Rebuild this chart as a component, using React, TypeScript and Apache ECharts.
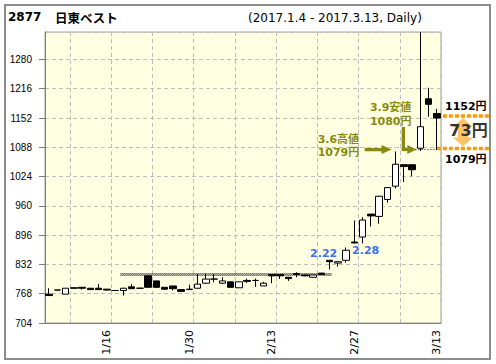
import React, { useEffect, useRef } from 'react';
import * as echarts from 'echarts';

// ---- data ----
const dates = [
  '1/4', '1/5', '1/6', '1/10', '1/11', '1/12', '1/13', '1/16', '1/17', '1/18',
  '1/19', '1/20', '1/23', '1/24', '1/25', '1/26', '1/27', '1/30', '1/31', '2/1',
  '2/2', '2/3', '2/6', '2/7', '2/8', '2/9', '2/10', '2/13', '2/14', '2/15',
  '2/16', '2/17', '2/20', '2/21', '2/22', '2/23', '2/24', '2/27', '2/28', '3/1',
  '3/2', '3/3', '3/6', '3/7', '3/8', '3/9', '3/10', '3/13',
];
const opens = [
  767, 776, 767, 781, 782, 780, 780, 778, 775, 775,
  783, 780, 807, 796, 782, 785, 777, 777, 780, 791,
  800, 791, 794, 781, 797, 797, 785, 810, 810, 804,
  812, 809, 804, 813, 841, 835, 841, 881, 892, 942,
  937, 974, 1003, 1050, 1050, 1086, 1194, 1162,
];
const closes = [
  764, 776, 780, 780, 780, 777, 777, 776, 775, 780,
  779, 780, 782, 782, 778, 779, 773, 778, 789, 800,
  800, 796, 782, 794, 795, 797, 791, 807, 807, 801,
  810, 807, 809, 810, 838, 838, 863, 879, 929, 938,
  981, 1000, 1051, 1046, 1039, 1133, 1182, 1152,
];
const lows = [
  763, 775, 767, 779, 777, 776, 777, 775, 774, 764,
  779, 779, 782, 781, 776, 775, 773, 777, 779, 790,
  793, 790, 782, 781, 791, 783, 785, 791, 800, 796,
  804, 806, 803, 809, 821, 827, 836, 878, 878, 915,
  921, 967, 998, 1012, 1025, 1080, 1155, 1082,
];
const highs = [
  780, 776, 780, 782, 782, 780, 789, 778, 776, 781,
  789, 781, 808, 796, 782, 785, 777, 788, 811, 812,
  811, 804, 794, 794, 801, 801, 794, 811, 810, 804,
  815, 810, 809, 814, 841, 838, 869, 928, 935, 942,
  982, 1000, 1079, 1050, 1050, 1340, 1218, 1172,
];
const xLabelIdx = [7, 17, 27, 37, 47];
const yMin = 704;
const yMax = 1340;
const yStep = 64;
const boxFrom = 9;
const boxTo = 34;
const boxValue = 810;
const blueMarks = [
  { idx: 34, text: '2.22', value: 841, dx: -6, dy: -7 },
  { idx: 38, text: '2.28', value: 878, dx: 3, dy: 7.5 },
];
const highIdx = 42; // 3.6
const highPrice = 1079;
const lowIdx = 45; // 3.9
const lowPrice = 1080;
const lastIdx = 47;
const lastClose = 1152;
const diff = lastClose - highPrice;

const OLIVE = '#8a8a12';
const ORANGE = '#ff9900';
const FONT = '"DejaVu Sans", "Noto Sans CJK JP", sans-serif';

export default function App() {
  const ref = useRef<HTMLDivElement>(null);

  useEffect(() => {
    if (!ref.current) return;
    const chart = echarts.init(ref.current, null, { renderer: 'svg' });
    const candleData = dates.map((_, i) => [opens[i], closes[i], lows[i], highs[i]]);
    const gridSel = (i: number) => i % 5 === 3;

    chart.setOption({
      animation: false,
      backgroundColor: '#ffffff',
      grid: {
        left: 45, top: 32, width: 396, height: 291,
        show: true, backgroundColor: '#ffffe2', borderColor: '#a0a0a0', borderWidth: 1,
      },
      xAxis: {
        type: 'category',
        data: dates,
        boundaryGap: true,
        axisLine: { lineStyle: { color: '#808080' } },
        axisTick: { interval: gridSel, length: 5, lineStyle: { color: '#808080' } },
        splitLine: { show: true, interval: gridSel, lineStyle: { color: '#bdbdbd', type: [4, 3] } },
        axisLabel: {
          interval: (i: number) => xLabelIdx.includes(i),
          rotate: 90, margin: 7, fontSize: 11, fontFamily: 'DejaVu Sans', color: '#000',
        },
      },
      yAxis: {
        type: 'value', min: yMin, max: yMax, interval: yStep,
        axisLine: { show: true, lineStyle: { color: '#808080' } },
        axisTick: { show: true, length: 6, lineStyle: { color: '#808080' } },
        splitLine: { show: true, lineStyle: { color: '#bdbdbd', type: [4, 3] } },
        axisLabel: {
          showMaxLabel: false, margin: 13, fontSize: 10, fontFamily: 'Liberation Sans', color: '#000',
          formatter: (v: number) => String(v),
        },
      },
      series: [
        {
          type: 'candlestick',
          data: candleData,
          barWidth: 7,
          clip: true,
          itemStyle: {
            color: '#ffffff', color0: '#000000',
            borderColor: '#000000', borderColor0: '#000000', borderColorDoji: '#000000',
            borderWidth: 1,
          },
        },
      ],
    });

    const P = (i: number, v: number) => chart.convertToPixel({ gridIndex: 0 }, [i, v]) as number[];
    const g: any[] = [];

    // frame
    g.push({ type: 'rect', silent: true, shape: { x: 5, y: 5, width: 485, height: 354 }, style: { fill: 'none', stroke: '#8c8c8c', lineWidth: 2 } });
    // titles
    g.push({ type: 'text', style: { text: '2877', x: 8, y: 17, verticalAlign: 'middle', fontSize: 12, fontWeight: 'bold', fontFamily: 'DejaVu Sans', fill: '#000' } });
    g.push({ type: 'text', style: { text: '日東ベスト', x: 55, y: 17, verticalAlign: 'middle', fontSize: 12.5, fontWeight: 'bold', fontFamily: '"Noto Sans CJK JP"', fill: '#000' } });
    g.push({ type: 'text', style: { text: '(2017.1.4 - 2017.3.13, Daily)', x: 248, y: 18, verticalAlign: 'middle', fontSize: 12, fontFamily: 'DejaVu Sans', fill: '#000' } });

    // dotted box line
    const bl = P(boxFrom, boxValue);
    const br = P(boxTo, boxValue);
    [-1, 0, 1].forEach((d, k) => {
      g.push({ type: 'line', silent: true, shape: { x1: bl[0] - 3, y1: bl[1] + d, x2: br[0] + 2, y2: br[1] + d }, style: { stroke: '#333', lineWidth: 1, lineDash: [1, 1], lineDashOffset: k % 2 } });
    });

    // blue date marks
    blueMarks.forEach((m) => {
      const p = P(m.idx, m.value);
      g.push({ type: 'text', style: { text: m.text, x: p[0] + m.dx, y: p[1] + m.dy, align: 'center', verticalAlign: 'middle', fontSize: 11, fontWeight: 'bold', fontFamily: 'DejaVu Sans', fill: '#3d6ff0' } });
    });

    // 3.6 high annotation
    const h = P(highIdx, highPrice);
    const ya = h[1] - 1.8;
    g.push({ type: 'text', style: { text: '3.6高値', x: h[0] - 78, y: h[1] - 12, verticalAlign: 'middle', fontSize: 11, fontWeight: 'bold', fontFamily: FONT, fill: OLIVE } });
    g.push({ type: 'text', style: { text: highPrice + '円', x: h[0] - 78, y: h[1] + 1, verticalAlign: 'middle', fontSize: 11, fontWeight: 'bold', fontFamily: FONT, fill: OLIVE } });
    g.push({ type: 'line', shape: { x1: h[0] - 31, y1: ya, x2: h[0] - 13, y2: ya }, style: { stroke: OLIVE, lineWidth: 3.3 } });
    g.push({ type: 'polygon', shape: { points: [[h[0] - 14, ya - 4.5], [h[0] - 4, ya], [h[0] - 14, ya + 4.5]] }, style: { fill: OLIVE } });

    // 3.9 low annotation
    const l = P(lowIdx, lowPrice);
    const lx43 = P(lowIdx - 2, lowPrice)[0];
    const yb = l[1] - 1.5;
    g.push({ type: 'text', style: { text: '3.9安値', x: l[0] - 50.5, y: l[1] - 43, verticalAlign: 'middle', fontSize: 11, fontWeight: 'bold', fontFamily: FONT, fill: OLIVE } });
    g.push({ type: 'text', style: { text: lowPrice + '円', x: l[0] - 50.5, y: l[1] - 29.5, verticalAlign: 'middle', fontSize: 11, fontWeight: 'bold', fontFamily: FONT, fill: OLIVE } });
    g.push({ type: 'line', shape: { x1: lx43 - 0.5, y1: l[1] - 24, x2: lx43 - 0.5, y2: yb + 1.6 }, style: { stroke: OLIVE, lineWidth: 3.3 } });
    g.push({ type: 'line', shape: { x1: lx43 - 2, y1: yb, x2: l[0] - 12, y2: yb }, style: { stroke: OLIVE, lineWidth: 3.3 } });
    g.push({ type: 'polygon', shape: { points: [[l[0] - 13, yb - 4.5], [l[0] - 4, yb], [l[0] - 13, yb + 4.5]] }, style: { fill: OLIVE } });

    // black dotted line at the low level
    const lastP = P(lastIdx, lastClose);
    g.push({ type: 'line', shape: { x1: l[0] - 5, y1: yb, x2: lastP[0] + 4, y2: yb }, style: { stroke: '#000', lineWidth: 1, lineDash: [1, 2] } });

    // right panel: difference
    const yTop = lastP[1] - 2;
    const yBot = P(lastIdx, highPrice)[1] - 3;
    g.push({ type: 'line', shape: { x1: lastP[0], y1: yTop, x2: 490, y2: yTop }, style: { stroke: ORANGE, lineWidth: 3.5, lineDash: [4, 2] } });
    g.push({ type: 'line', shape: { x1: lastP[0], y1: yBot, x2: 490, y2: yBot }, style: { stroke: ORANGE, lineWidth: 3.5, lineDash: [4, 2] } });
    const xc = 463;
    const t = yTop + 2;
    const b = yBot - 2;
    g.push({
      type: 'polygon',
      shape: { points: [[xc, t], [xc + 10, t + 9], [xc + 5, t + 9], [xc + 5, b - 9], [xc + 10, b - 9], [xc, b], [xc - 10, b - 9], [xc - 5, b - 9], [xc - 5, t + 9], [xc - 10, t + 9]] },
      style: { fill: '#ffc266' },
    });
    g.push({ type: 'text', style: { text: lastClose + '円', x: 445, y: lastP[1] - 11.3, verticalAlign: 'middle', fontSize: 11, fontWeight: 'bold', fontFamily: FONT, fill: '#000' } });
    g.push({ type: 'text', style: { text: diff + '円', x: 468.5, y: (yTop + yBot) / 2 - 1.5, align: 'center', verticalAlign: 'middle', fontSize: 16, fontWeight: 'bold', fontFamily: FONT, fill: '#333' } });
    g.push({ type: 'text', style: { text: highPrice + '円', x: 445, y: P(lastIdx, highPrice)[1] + 7.6, verticalAlign: 'middle', fontSize: 11, fontWeight: 'bold', fontFamily: FONT, fill: '#000' } });

    chart.setOption({ graphic: g });

    return () => chart.dispose();
  }, []);

  return <div ref={ref} style={{ position: 'absolute', left: 0, top: 0, width: 496, height: 364 }} />;
}
